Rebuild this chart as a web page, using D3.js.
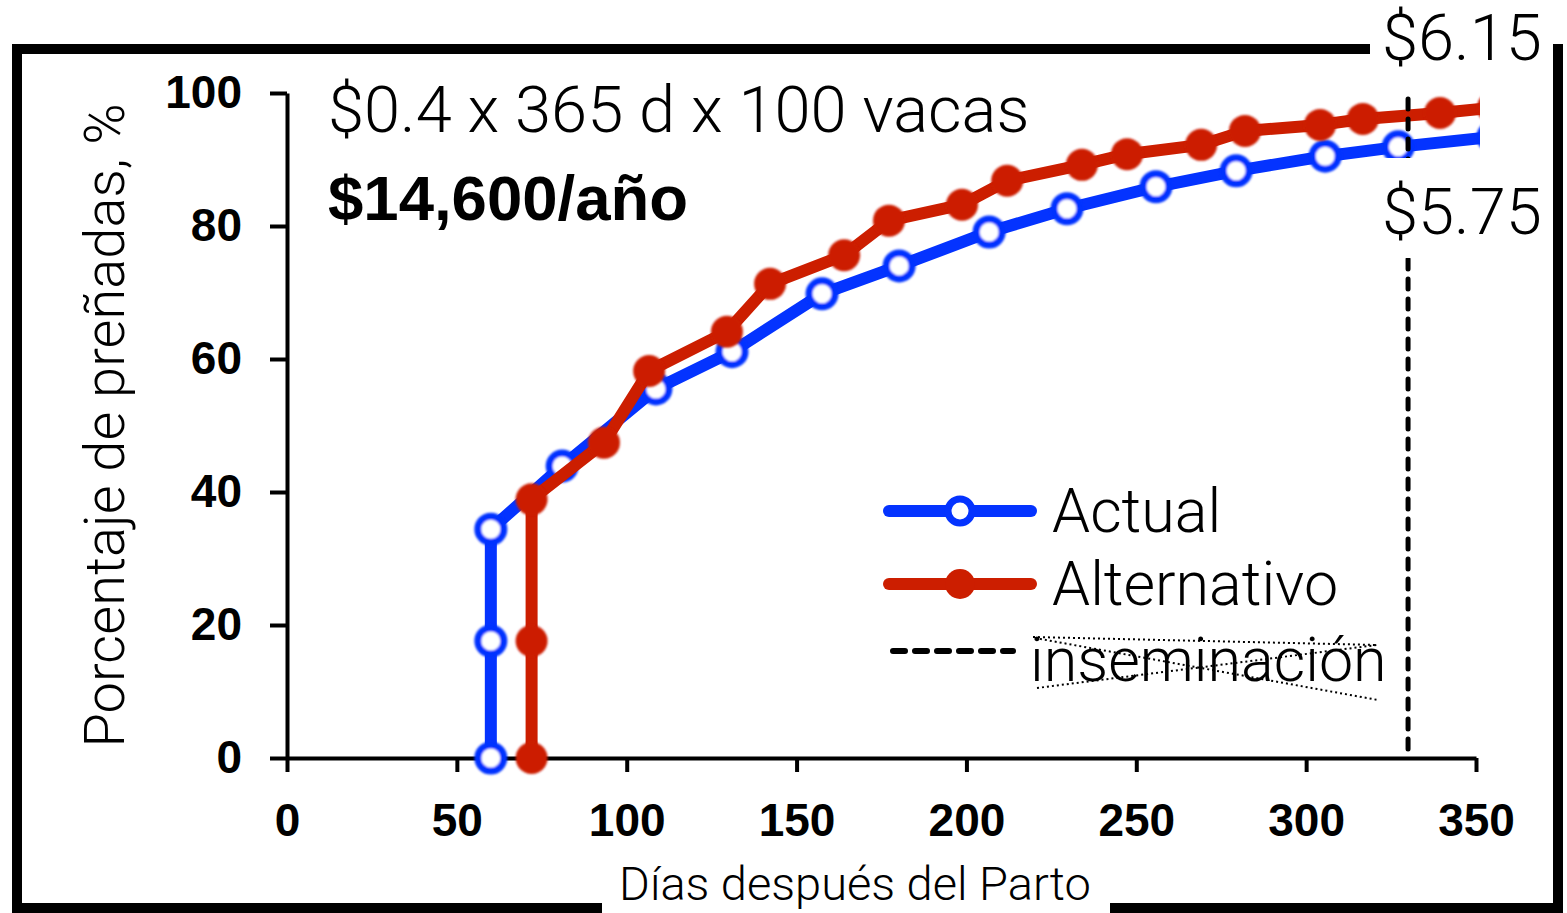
<!DOCTYPE html>
<html>
<head>
<meta charset="utf-8">
<script src="https://cdn.jsdelivr.net/npm/d3@7"></script>
<style>
  html, body { margin: 0; padding: 0; background: #fff; }
  svg { display: block; }
</style>
</head>
<body>
<svg id="chart" width="1567" height="913"></svg>
<script>
// Pregnancy curves: days after calving vs. cumulative % pregnant
const actualDays = [60, 60, 60, 81, 108.6, 131, 157.5, 180.2, 206.7, 229.6, 255.8, 279.4, 305.6, 327.1, 355];
const actualPct  = [0, 17.6, 34.4, 43.9, 55.5, 61.1, 69.8, 74.0, 79.1, 82.6, 85.9, 88.3, 90.5, 91.9, 93.4];

const altDays = [72, 72, 72, 93.3, 106.6, 129.5, 142.2, 164, 177.2, 198.7, 212, 234, 247.3, 269.1, 282, 304.1, 316.7, 339.4, 355];
const altPct  = [0, 17.6, 38.9, 47.4, 58.2, 64.1, 71.3, 75.6, 80.8, 83.2, 86.8, 89.2, 90.8, 92.2, 94.3, 95.2, 96.1, 97.0, 97.8];

const seriesNames = ["Actual", "Alternativo"];
const insemLabel = "inseminación";
const insemDay = 330;

const xTicks = [0, 50, 100, 150, 200, 250, 300, 350];
const yTicks = [0, 20, 40, 60, 80, 100];

const costLine = "$0.4 x 365 d x 100 vacas";
const costTotal = "$14,600/año";
const priceHigh = "$6.15";
const priceLow = "$5.75";
const xTitle = "Días después del Parto";
const yTitle = "Porcentaje de preñadas, %";

const BLUE = "#0433ff";
const RED = "#cc1e00";
const LIGHT = "'Helvetica Neue', Roboto, 'Liberation Sans', sans-serif";
const BOLD = "'Liberation Sans', Arial, sans-serif";

const svg = d3.select("#chart");

const x = d3.scaleLinear().domain([0, 350]).range([287, 1476]);
const y = d3.scaleLinear().domain([0, 100]).range([758, 93]);

// outer frame
svg.append("rect")
  .attr("x", 17).attr("y", 49).attr("width", 1541).attr("height", 859)
  .attr("fill", "none").attr("stroke", "#000").attr("stroke-width", 10);

// gaps in the frame for the labels sitting on it
svg.append("rect").attr("x", 1370).attr("y", 36).attr("width", 183).attr("height", 26).attr("fill", "#fff");
svg.append("rect").attr("x", 602).attr("y", 898).attr("width", 508).attr("height", 15).attr("fill", "#fff");

const defs = svg.append("defs");
defs.append("clipPath").attr("id", "plotClip")
  .append("rect")
  .attr("x", x(0) - 40).attr("y", y(100) - 40)
  .attr("width", x(350) + 4 - (x(0) - 40)).attr("height", y(0) - y(100) + 80);
defs.append("filter").attr("id", "soft")
  .attr("x", "-50%").attr("y", "-50%").attr("width", "200%").attr("height", "200%")
  .append("feGaussianBlur").attr("stdDeviation", 1.1);

// axes
const yAxis = d3.axisLeft(y).tickValues(yTicks).tickSize(17).tickSizeOuter(0).tickPadding(28);
const xAxis = d3.axisBottom(x).tickValues(xTicks).tickSize(14).tickSizeOuter(0).tickPadding(31);

function styleAxis(g) {
  g.select(".domain").attr("stroke", "#000").attr("stroke-width", 4);
  g.selectAll(".tick line").attr("stroke", "#000").attr("stroke-width", 4);
  g.selectAll(".tick text")
    .attr("fill", "#000")
    .style("font-family", BOLD)
    .style("font-weight", "bold")
    .style("font-size", "46px");
}

svg.append("g").attr("transform", `translate(${x(0)},0)`).call(yAxis).call(styleAxis);
svg.append("g").attr("transform", `translate(0,${y(0)})`).call(xAxis).call(styleAxis);

// annotation text
svg.append("text").attr("x", 328).attr("y", 132).text(costLine)
  .style("font-family", LIGHT).style("font-weight", 300).style("font-size", "65px");
svg.append("text").attr("x", 328).attr("y", 220).text(costTotal)
  .style("font-family", BOLD).style("font-weight", "bold").style("font-size", "63.5px");

// axis titles
svg.append("text").attr("x", 855).attr("y", 900).attr("text-anchor", "middle").text(xTitle)
  .style("font-family", LIGHT).style("font-weight", 300).style("font-size", "47px");
svg.append("text").attr("transform", `translate(124,${(y(0) + y(100)) / 2}) rotate(-90)`)
  .attr("text-anchor", "middle").text(yTitle)
  .style("font-family", LIGHT).style("font-weight", 300).style("font-size", "56px");

const line = d3.line().x(d => x(d[0])).y(d => y(d[1]));
const plot = svg.append("g").attr("clip-path", "url(#plotClip)");

const actual = actualDays.map((d, i) => [d, actualPct[i]]);
const alt = altDays.map((d, i) => [d, altPct[i]]);

// Actual series: open markers
plot.append("path").datum(actual).attr("d", line)
  .attr("fill", "none").attr("stroke", BLUE).attr("stroke-width", 12).attr("stroke-linejoin", "round");
plot.append("g").attr("filter", "url(#soft)").selectAll("circle").data(actual).join("circle")
  .attr("cx", d => x(d[0])).attr("cy", d => y(d[1])).attr("r", 13)
  .attr("fill", "#fff").attr("stroke", BLUE).attr("stroke-width", 7);

// Alternativo series: filled markers
plot.append("path").datum(alt).attr("d", line)
  .attr("fill", "none").attr("stroke", RED).attr("stroke-width", 12).attr("stroke-linejoin", "round");
plot.append("g").attr("filter", "url(#soft)").selectAll("circle").data(alt).join("circle")
  .attr("cx", d => x(d[0])).attr("cy", d => y(d[1])).attr("r", 16)
  .attr("fill", RED);

// insemination day marker
svg.append("line")
  .attr("x1", x(insemDay)).attr("x2", x(insemDay))
  .attr("y1", y(100) + 6).attr("y2", y(0))
  .attr("stroke", "#000").attr("stroke-width", 5)
  .attr("stroke-linecap", "round").attr("stroke-dasharray", "10,10");

// price labels
svg.append("rect").attr("x", 1378).attr("y", 158).attr("width", 166).attr("height", 100).attr("fill", "#fff");
svg.append("text").attr("x", 1382).attr("y", 60).text(priceHigh)
  .style("font-family", LIGHT).style("font-weight", 300).style("font-size", "65px");
svg.append("text").attr("x", 1382).attr("y", 234).text(priceLow)
  .style("font-family", LIGHT).style("font-weight", 300).style("font-size", "65px");

// legend
const legend = svg.append("g");
const lgX0 = 889, lgX1 = 1031, lgMid = 960;
const rows = [
  { y: 511, color: BLUE, name: seriesNames[0], open: true },
  { y: 584, color: RED, name: seriesNames[1], open: false }
];
rows.forEach(r => {
  legend.append("line").attr("x1", lgX0).attr("x2", lgX1).attr("y1", r.y).attr("y2", r.y)
    .attr("stroke", r.color).attr("stroke-width", 12).attr("stroke-linecap", "round");
  const c = legend.append("circle").attr("cx", lgMid).attr("cy", r.y);
  if (r.open) c.attr("r", 12).attr("fill", "#fff").attr("stroke", r.color).attr("stroke-width", 7);
  else c.attr("r", 15).attr("fill", r.color);
  legend.append("text").attr("x", 1052).attr("y", r.y + 21).text(r.name)
    .style("font-family", LIGHT).style("font-weight", 300).style("font-size", "61px");
});
legend.append("line").attr("x1", 893).attr("x2", 1013).attr("y1", 651).attr("y2", 651)
  .attr("stroke", "#000").attr("stroke-width", 6).attr("stroke-linecap", "round")
  .attr("stroke-dasharray", "12,10");
legend.append("text").attr("x", 1030).attr("y", 681).text(insemLabel)
  .style("font-family", LIGHT).style("font-weight", 300).style("font-size", "61px");

// dotted strike lines over the insemination label
const strikes = [
  [[1033, 637], [1377, 645]],
  [[1035, 638], [1378, 700]],
  [[1037, 688], [1377, 645]]
];
legend.selectAll("line.strike").data(strikes).join("line").attr("class", "strike")
  .attr("x1", d => d[0][0]).attr("y1", d => d[0][1])
  .attr("x2", d => d[1][0]).attr("y2", d => d[1][1])
  .attr("stroke", "#000").attr("stroke-width", 2).attr("stroke-dasharray", "2,3");
</script>
</body>
</html>
